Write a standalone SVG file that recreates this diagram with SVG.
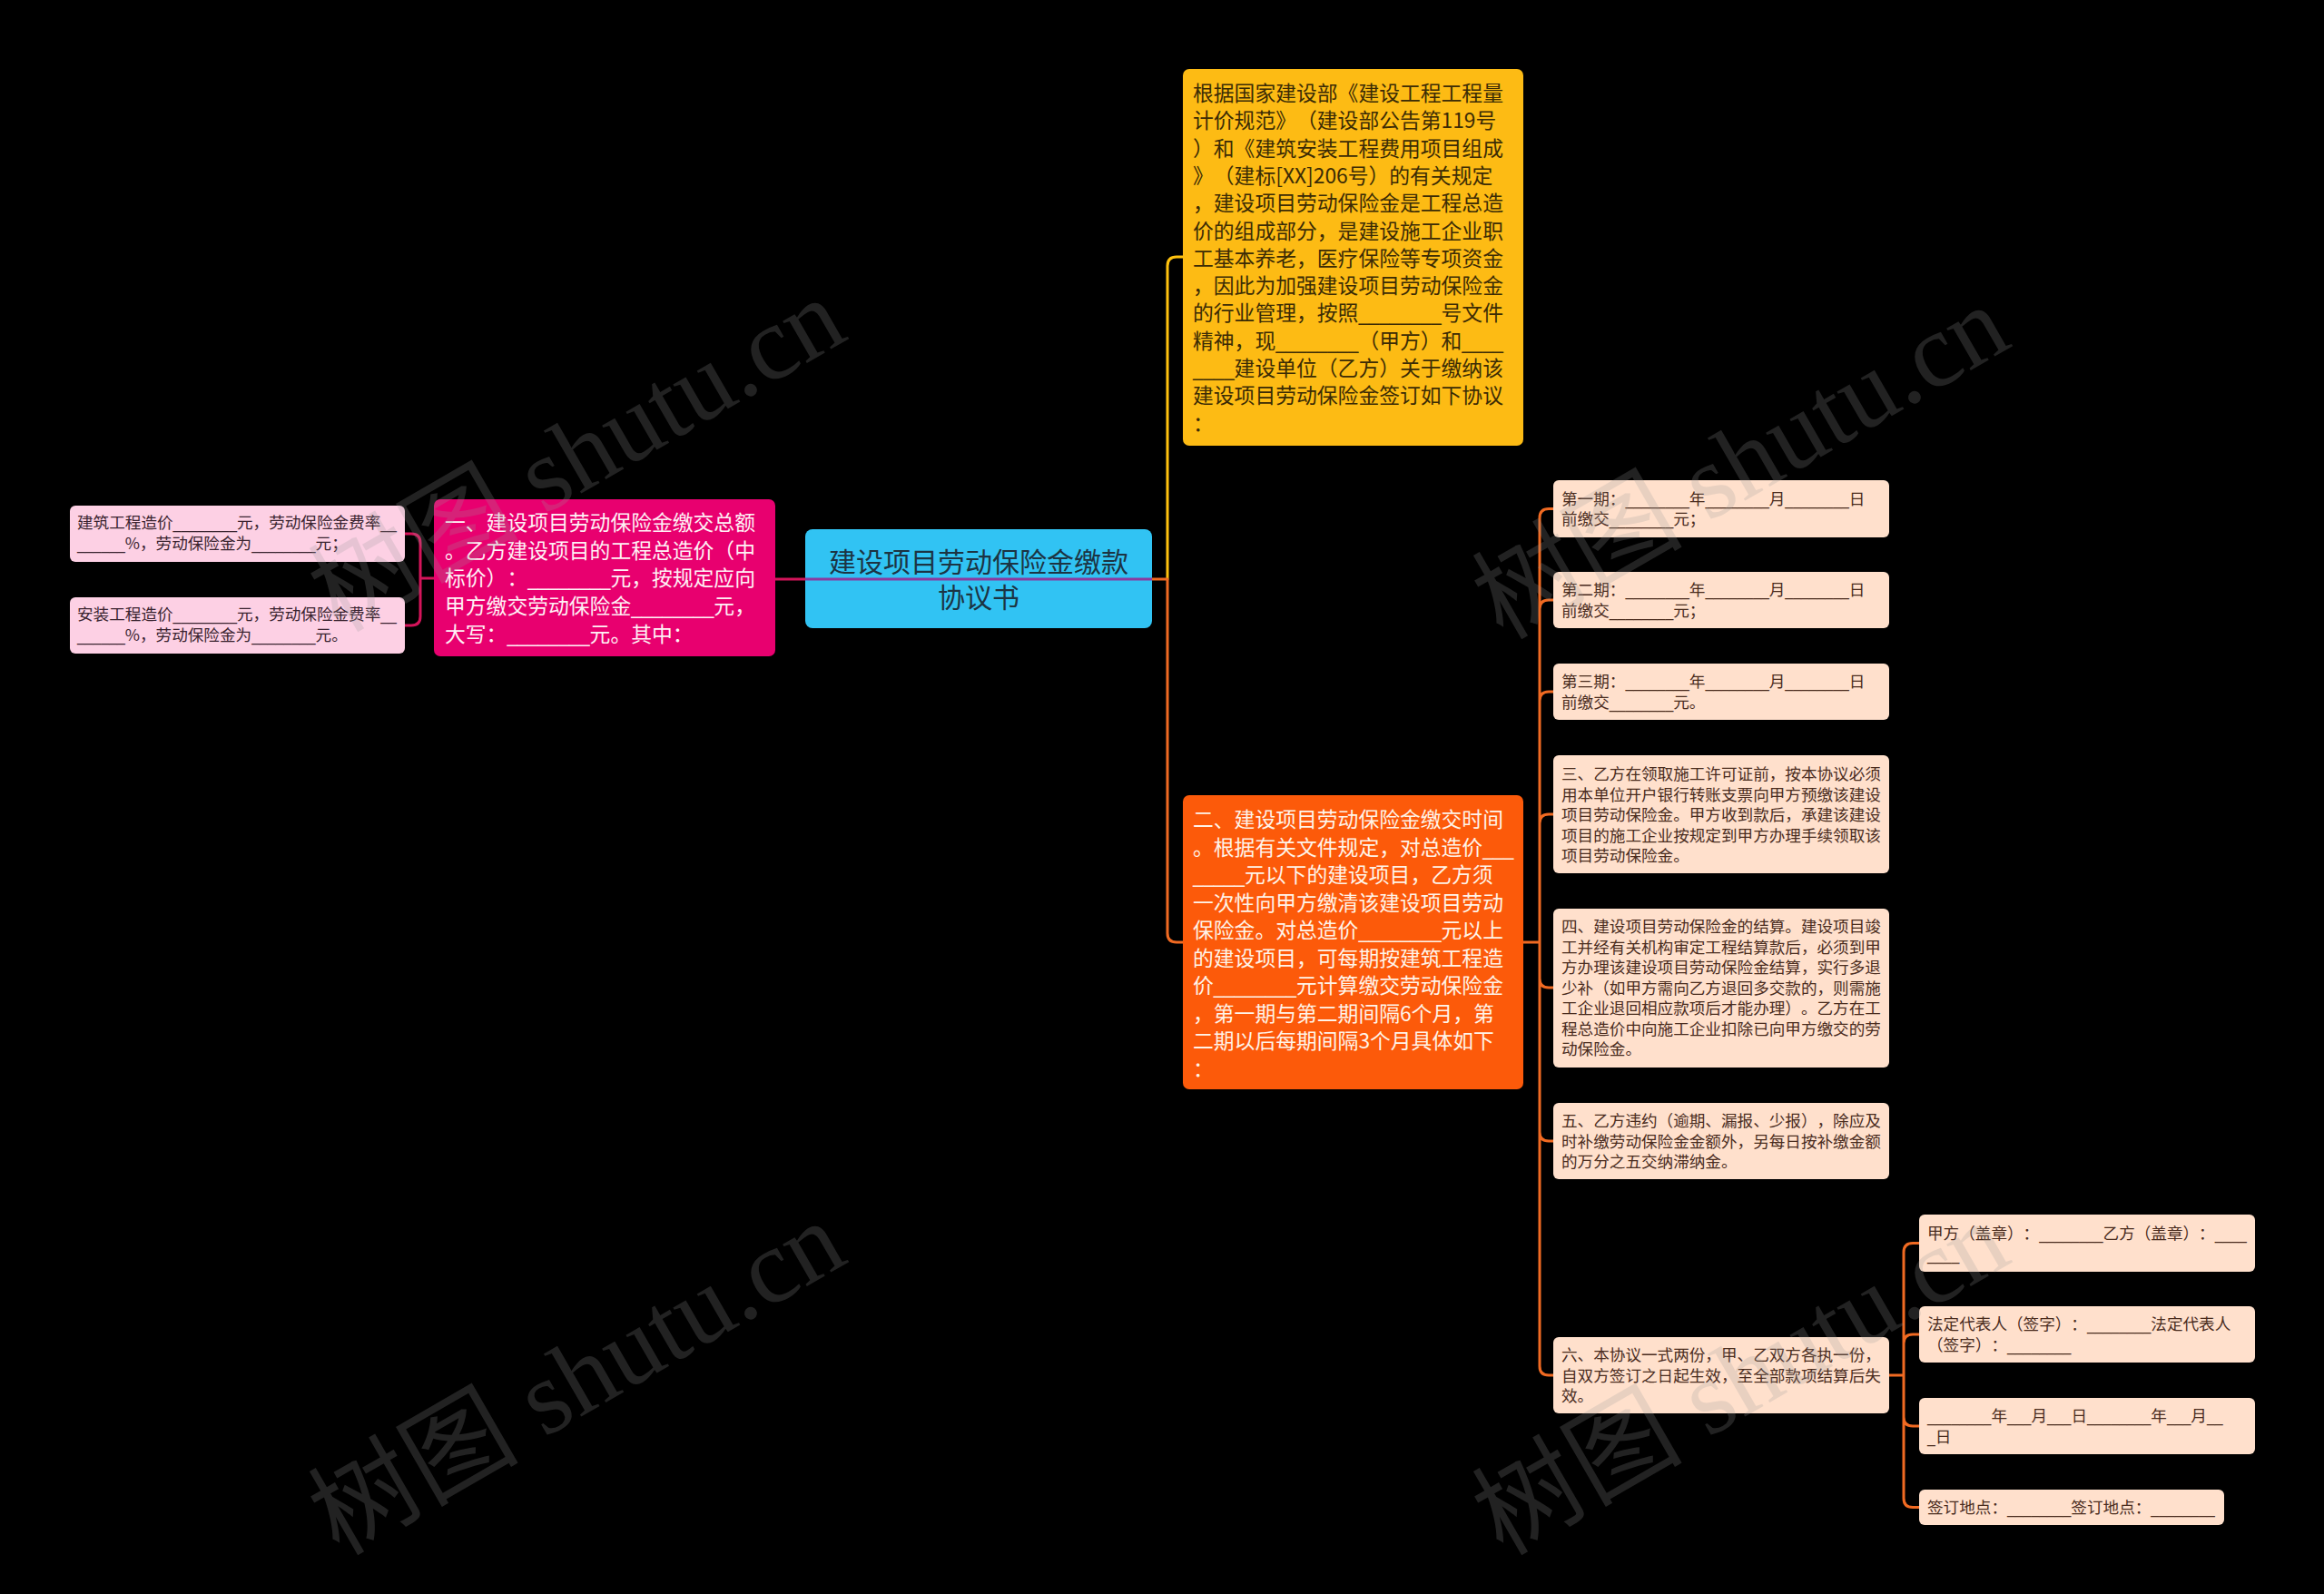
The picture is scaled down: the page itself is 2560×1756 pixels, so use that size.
<svg xmlns="http://www.w3.org/2000/svg" width="2560" height="1756" viewBox="0 0 2560 1756">
<style>
text{font-family:"Noto Sans CJK SC","Liberation Sans",sans-serif;text-spacing-trim:space-all;}
.u{font-family:"DejaVu Sans",sans-serif;}
.main{font-size:22.8px;}
.leaf{font-size:17.6px;}
.root{font-size:30px;fill:#1c3443;}
.yel{fill:#3b2b05;}
.ora{fill:#fff3e8;}
.pnk{fill:#fff0f5;}
.rl{fill:#4a2c1e;}
.ll{fill:#3a2430;}
.c{fill:none;stroke-width:3;stroke-linecap:round;}
.wm{font-family:"Liberation Serif","Noto Sans CJK SC",serif;font-size:116px;fill:#9a9a9a;opacity:0.22;}
</style>
<rect x="0" y="0" width="2560" height="1756" fill="#000"/>
<g id="connectors">
<path class="c" stroke="#d4145a" d="M478,637 H463 M463,637 V598 Q463,588 453,588 H446 M463,637 V679 Q463,689 453,689 H446"/>
<path class="c" stroke="#d4145a" d="M854,638 H1078"/>
<path class="c" stroke="#ffc20e" d="M1286,638 V293 Q1286,283 1296,283 H1303"/>
<path class="c" stroke="#f06a22" d="M1078,638 H1286 M1286,638 V1028 Q1286,1038 1296,1038 H1303"/>
<path class="c" stroke="#f06a22" d="M1678,1038 H1696 M1696,1038 V570.5 Q1696,560.5 1706,560.5 H1711 M1696,671 Q1696,661 1706,661 H1711 M1696,772 Q1696,762 1706,762 H1711 M1696,907 Q1696,897 1706,897 H1711 M1696,1038 V1505 Q1696,1515 1706,1515 H1711 M1696,1247 Q1696,1257 1706,1257 H1711 M1696,1078 Q1696,1088 1706,1088 H1711"/>
<path class="c" stroke="#f06a22" d="M2081,1515 H2097 M2097,1515 V1379.5 Q2097,1369.5 2107,1369.5 H2114 M2097,1480 Q2097,1470 2107,1470 H2114 M2097,1515 V1650.5 Q2097,1660.5 2107,1660.5 H2114 M2097,1561 Q2097,1571 2107,1571 H2114"/>
</g>
<g id="root">
<rect x="887" y="583" width="382" height="109" rx="8" fill="#31c3f3"/>
<line x1="887" y1="638" x2="1269" y2="638" stroke="#8b3a9e" stroke-width="3"/>
<text class="root" text-anchor="middle"><tspan x="1078" y="630">建设项目劳动保险金缴款</tspan><tspan x="1078" y="669">协议书</tspan></text>
</g>
<g id="node-yellow">
<rect x="1303" y="76" width="375" height="415" rx="7" fill="#fdbb14"/>
<text class="main yel"><tspan x="1314" y="111">根据国家建设部《建设工程工程量</tspan><tspan x="1314" y="141.3">计价规范》（建设部公告第119号</tspan><tspan x="1314" y="171.6">）和《建筑安装工程费用项目组成</tspan><tspan x="1314" y="201.9">》（建标[XX]206号）的有关规定</tspan><tspan x="1314" y="232.2">，建设项目劳动保险金是工程总造</tspan><tspan x="1314" y="262.5">价的组成部分，是建设施工企业职</tspan><tspan x="1314" y="292.8">工基本养老，医疗保险等专项资金</tspan><tspan x="1314" y="323.1">，因此为加强建设项目劳动保险金</tspan><tspan x="1314" y="353.4">的行业管理，按照<tspan class="u">________</tspan>号文件</tspan><tspan x="1314" y="383.7">精神，现<tspan class="u">________</tspan>（甲方）和<tspan class="u">____</tspan></tspan><tspan x="1314" y="414"><tspan class="u">____</tspan>建设单位（乙方）关于缴纳该</tspan><tspan x="1314" y="444.3">建设项目劳动保险金签订如下协议</tspan><tspan x="1314" y="474.6">：</tspan></text>
</g>
<g id="node-orange">
<rect x="1303" y="876" width="375" height="324" rx="7" fill="#fc5a0a"/>
<text class="main ora"><tspan x="1314" y="911">二、建设项目劳动保险金缴交时间</tspan><tspan x="1314" y="941.5">。根据有关文件规定，对总造价<tspan class="u">___</tspan></tspan><tspan x="1314" y="972"><tspan class="u">_____</tspan>元以下的建设项目，乙方须</tspan><tspan x="1314" y="1002.5">一次性向甲方缴清该建设项目劳动</tspan><tspan x="1314" y="1033">保险金。对总造价<tspan class="u">________</tspan>元以上</tspan><tspan x="1314" y="1063.5">的建设项目，可每期按建筑工程造</tspan><tspan x="1314" y="1094">价<tspan class="u">________</tspan>元计算缴交劳动保险金</tspan><tspan x="1314" y="1124.5">，第一期与第二期间隔6个月，第</tspan><tspan x="1314" y="1155">二期以后每期间隔3个月具体如下</tspan><tspan x="1314" y="1185.5">：</tspan></text>
</g>
<g id="node-pink">
<rect x="478" y="550" width="376" height="173" rx="7" fill="#e8006f"/>
<text class="main pnk"><tspan x="490" y="584">一、建设项目劳动保险金缴交总额</tspan><tspan x="490" y="614.7">。乙方建设项目的工程总造价（中</tspan><tspan x="490" y="645.4">标价）：<tspan class="u">________</tspan>元，按规定应向</tspan><tspan x="490" y="676.1">甲方缴交劳动保险金<tspan class="u">________</tspan>元，</tspan><tspan x="490" y="706.8">大写：<tspan class="u">________</tspan>元。其中：</tspan></text>
</g>
<g id="leaf-left-1">
<rect x="77" y="557" width="369" height="62" rx="6" fill="#fdd0e4"/>
<text class="leaf ll"><tspan x="85" y="582">建筑工程造价<tspan class="u">________</tspan>元，劳动保险金费率<tspan class="u">__</tspan></tspan><tspan x="85" y="605"><tspan class="u">______</tspan>%，劳动保险金为<tspan class="u">________</tspan>元；</tspan></text>
</g>
<g id="leaf-left-2">
<rect x="77" y="658" width="369" height="62" rx="6" fill="#fdd0e4"/>
<text class="leaf ll"><tspan x="85" y="683">安装工程造价<tspan class="u">________</tspan>元，劳动保险金费率<tspan class="u">__</tspan></tspan><tspan x="85" y="706"><tspan class="u">______</tspan>%，劳动保险金为<tspan class="u">________</tspan>元。</tspan></text>
</g>
<g id="leaf-p1">
<rect x="1711" y="529" width="370" height="63" rx="6" fill="#ffe0cc"/>
<text class="leaf rl"><tspan x="1720" y="555.5">第一期：<tspan class="u">________</tspan>年<tspan class="u">________</tspan>月<tspan class="u">________</tspan>日</tspan><tspan x="1720" y="578">前缴交<tspan class="u">________</tspan>元；</tspan></text>
</g>
<g id="leaf-p2">
<rect x="1711" y="630" width="370" height="62" rx="6" fill="#ffe0cc"/>
<text class="leaf rl"><tspan x="1720" y="656">第二期：<tspan class="u">________</tspan>年<tspan class="u">________</tspan>月<tspan class="u">________</tspan>日</tspan><tspan x="1720" y="678.5">前缴交<tspan class="u">________</tspan>元；</tspan></text>
</g>
<g id="leaf-p3">
<rect x="1711" y="731" width="370" height="62" rx="6" fill="#ffe0cc"/>
<text class="leaf rl"><tspan x="1720" y="757">第三期：<tspan class="u">________</tspan>年<tspan class="u">________</tspan>月<tspan class="u">________</tspan>日</tspan><tspan x="1720" y="779.5">前缴交<tspan class="u">________</tspan>元。</tspan></text>
</g>
<g id="leaf-3">
<rect x="1711" y="832" width="370" height="130" rx="6" fill="#ffe0cc"/>
<text class="leaf rl"><tspan x="1720" y="859">三、乙方在领取施工许可证前，按本协议必须</tspan><tspan x="1720" y="881.5">用本单位开户银行转账支票向甲方预缴该建设</tspan><tspan x="1720" y="904">项目劳动保险金。甲方收到款后，承建该建设</tspan><tspan x="1720" y="926.5">项目的施工企业按规定到甲方办理手续领取该</tspan><tspan x="1720" y="949">项目劳动保险金。</tspan></text>
</g>
<g id="leaf-4">
<rect x="1711" y="1001" width="370" height="175" rx="6" fill="#ffe0cc"/>
<text class="leaf rl"><tspan x="1720" y="1027">四、建设项目劳动保险金的结算。建设项目竣</tspan><tspan x="1720" y="1049.5">工并经有关机构审定工程结算款后，必须到甲</tspan><tspan x="1720" y="1072">方办理该建设项目劳动保险金结算，实行多退</tspan><tspan x="1720" y="1094.5">少补（如甲方需向乙方退回多交款的，则需施</tspan><tspan x="1720" y="1117">工企业退回相应款项后才能办理）。乙方在工</tspan><tspan x="1720" y="1139.5">程总造价中向施工企业扣除已向甲方缴交的劳</tspan><tspan x="1720" y="1162">动保险金。</tspan></text>
</g>
<g id="leaf-5">
<rect x="1711" y="1215" width="370" height="84" rx="6" fill="#ffe0cc"/>
<text class="leaf rl"><tspan x="1720" y="1241">五、乙方违约（逾期、漏报、少报），除应及</tspan><tspan x="1720" y="1263.5">时补缴劳动保险金金额外，另每日按补缴金额</tspan><tspan x="1720" y="1286">的万分之五交纳滞纳金。</tspan></text>
</g>
<g id="leaf-6">
<rect x="1711" y="1473" width="370" height="84" rx="6" fill="#ffe0cc"/>
<text class="leaf rl"><tspan x="1720" y="1499">六、本协议一式两份，甲、乙双方各执一份，</tspan><tspan x="1720" y="1521.5">自双方签订之日起生效，至全部款项结算后失</tspan><tspan x="1720" y="1544">效。</tspan></text>
</g>
<g id="leaf-6-1">
<rect x="2114" y="1338" width="370" height="63" rx="6" fill="#ffe0cc"/>
<text class="leaf rl"><tspan x="2123" y="1365">甲方（盖章）：<tspan class="u">________</tspan>乙方（盖章）：<tspan class="u">____</tspan></tspan><tspan x="2123" y="1387.5"><tspan class="u">____</tspan></tspan></text>
</g>
<g id="leaf-6-2">
<rect x="2114" y="1439" width="370" height="62" rx="6" fill="#ffe0cc"/>
<text class="leaf rl"><tspan x="2123" y="1465">法定代表人（签字）：<tspan class="u">________</tspan>法定代表人</tspan><tspan x="2123" y="1487.5">（签字）：<tspan class="u">________</tspan></tspan></text>
</g>
<g id="leaf-6-3">
<rect x="2114" y="1540" width="370" height="62" rx="6" fill="#ffe0cc"/>
<text class="leaf rl"><tspan x="2123" y="1566"><tspan class="u">________</tspan>年<tspan class="u">___</tspan>月<tspan class="u">___</tspan>日<tspan class="u">________</tspan>年<tspan class="u">___</tspan>月<tspan class="u">__</tspan></tspan><tspan x="2123" y="1588.5"><tspan class="u">_</tspan>日</tspan></text>
</g>
<g id="leaf-6-4">
<rect x="2114" y="1641" width="336" height="39" rx="6" fill="#ffe0cc"/>
<text class="leaf rl"><tspan x="2123" y="1667">签订地点：<tspan class="u">________</tspan>签订地点：<tspan class="u">________</tspan></tspan></text>
</g>
<g id="watermarks">
<text class="wm" text-anchor="middle" transform="translate(655,535) rotate(-30)">树图 shutu.cn</text>
<text class="wm" text-anchor="middle" transform="translate(1937,543) rotate(-30)">树图 shutu.cn</text>
<text class="wm" text-anchor="middle" transform="translate(655,1552) rotate(-30)">树图 shutu.cn</text>
<text class="wm" text-anchor="middle" transform="translate(1937,1552) rotate(-30)">树图 shutu.cn</text>
</g>
</svg>
